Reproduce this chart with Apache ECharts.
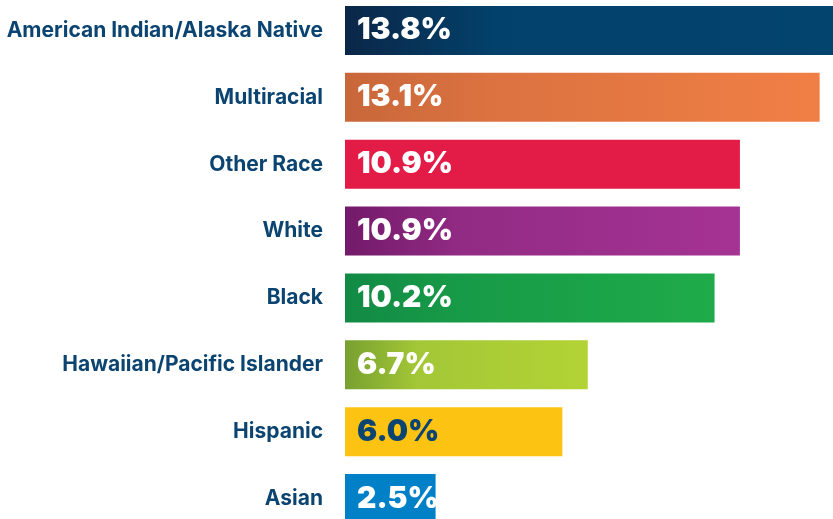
<!DOCTYPE html>
<html>
<head>
<meta charset="utf-8">
<script src="https://cdn.jsdelivr.net/npm/echarts@6/dist/echarts.min.js"></script>
<style>
  html, body { margin: 0; padding: 0; background: #fff; }
  #chart { width: 833px; height: 519px; }
</style>
</head>
<body>
<div id="chart"></div>
<script>
// 数据
const categories = ['American Indian/Alaska Native', 'Multiracial', 'Other Race', 'White', 'Black',
  'Hawaiian/Pacific Islander', 'Hispanic', 'Asian'];
const values = [13.8, 13.1, 10.9, 10.9, 10.2, 6.7, 6.0, 2.5];
// 每根柱子的渐变色 [左, 中, 右]
const barColors = [
  ['#0b2748', '#02416b', '#03446e'],
  ['#c8673a', '#db7240', '#f07f45'],
  ['#e31b47', '#e31b47', '#e31b47'],
  ['#731a6a', '#922b84', '#a53394'],
  ['#128a45', '#179a47', '#1fab4a'],
  ['#78a030', '#a3c736', '#b3d335'],
  ['#fcc313', '#fcc313', '#fcc313'],
  ['#0080c6', '#0080c6', '#0080c6']
];
const labelColors = ['#fff', '#fff', '#fff', '#fff', '#fff', '#fff', '#0b4470', '#fff'];

const chart = echarts.init(document.getElementById('chart'));

const seriesData = values.map((v, i) => ({
  value: v,
  itemStyle: {
    color: new echarts.graphic.LinearGradient(0, 0, 1, 0, [
      { offset: 0, color: barColors[i][0] },
      { offset: 0.3, color: barColors[i][1] },
      { offset: 1, color: barColors[i][2] }
    ])
  },
  label: { color: labelColors[i] }
}));

chart.setOption({
  animation: false,
  grid: {
    left: 345,
    right: -12, // 第一根柱子超出画布
    top: -3,
    bottom: -13,
    containLabel: false,
    outerBoundsMode: 'none'
  },
  xAxis: {
    type: 'value',
    min: 0,
    max: 13.8,
    show: false
  },
  yAxis: {
    type: 'category',
    data: categories,
    inverse: true,
    axisLine: { show: false },
    axisTick: { show: false },
    axisLabel: {
      margin: 22,
      color: '#0b4470',
      fontSize: 21,
      fontWeight: 'bold',
      fontFamily: 'Inter'
    }
  },
  series: [{
    type: 'bar',
    data: seriesData,
    barWidth: 49,
    clip: false,
    label: {
      show: true,
      position: 'insideLeft',
      distance: 12,
      fontSize: 30,
      fontWeight: 900,
      fontFamily: 'Inter',
      formatter: p => p.value.toFixed(1) + '%'
    }
  }]
});
</script>
</body>
</html>
